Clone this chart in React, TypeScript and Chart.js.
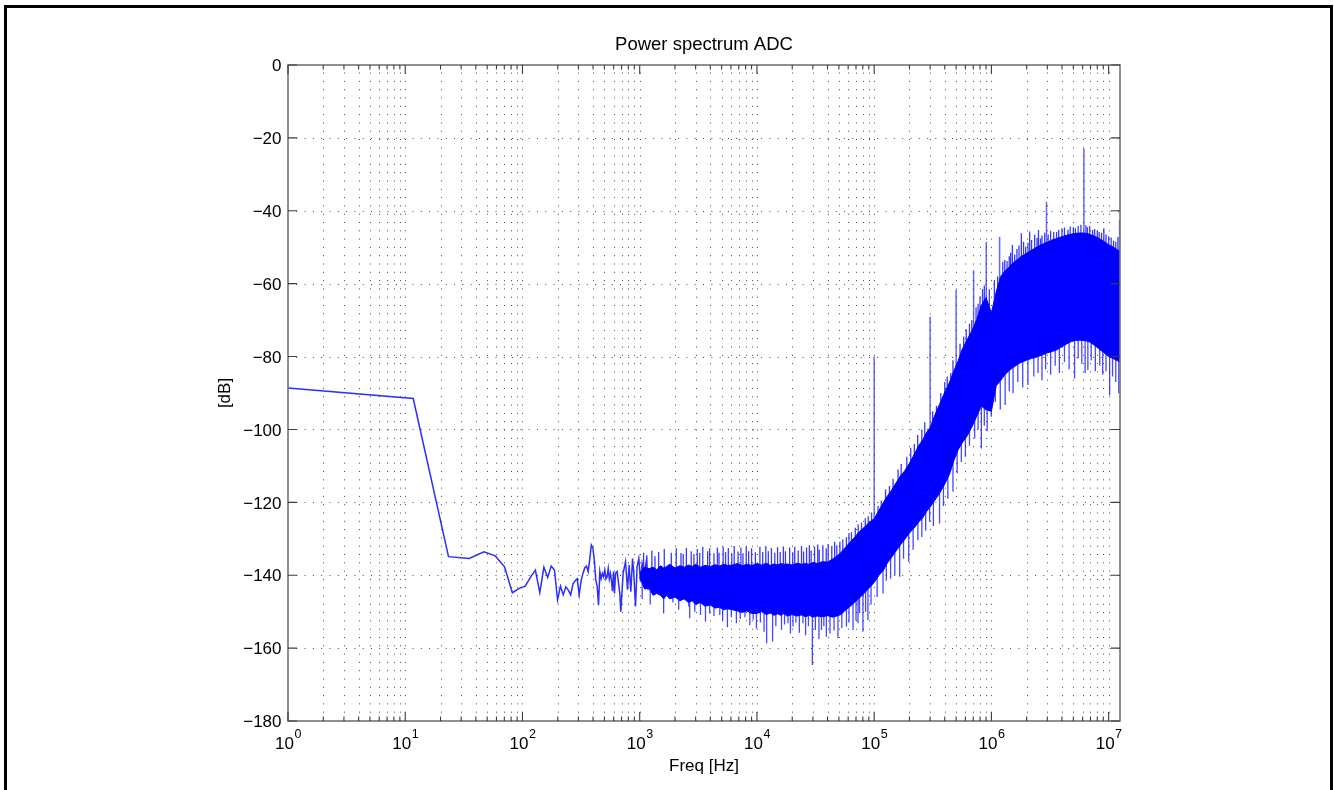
import React, { useEffect, useRef } from 'react';
import { Chart, registerables } from 'chart.js';

Chart.register(...registerables);

// ---- Data ----
// Low-frequency part of the spectrum (discrete FFT bins, Hz / dB)
const lowFreq = [
  1, 11.7, 23.4, 35.1, 46.9, 58.6, 70.3, 82.0, 93.8, 105.5, 117.2, 128.9, 140.6, 152.3,
  164.1, 175.8, 187.5, 199.2, 210.9, 222.7, 234.4, 246.1, 257.8, 269.5, 281.3, 293.0,
  304.7, 316.4, 328.1, 339.8, 351.6, 363.3, 375.0, 386.7, 398.4, 410.2, 421.9, 433.6,
  445.3, 457.0, 468.8, 480.5, 492.2, 503.9, 515.6, 527.3, 539.0, 550.8, 562.5, 574.2,
  585.9, 597.7, 609.4, 622, 642, 676, 690, 722, 757, 787, 812, 840, 869, 891, 921, 950,
  983, 1016, 1049, 1091, 1143, 1180,
];
const lowDb = [
  -88.6, -91.5, -134.9, -135.4, -133.6, -134.7, -137.7, -144.8, -143.6, -143.0, -140.5,
  -138.6, -144.8, -137.8, -140.6, -137.5, -138.6, -146.8, -143.0, -145.4, -143.2, -144.1,
  -145.4, -142.4, -141.5, -141.0, -145.4, -141.5, -139.5, -138.0, -137.5, -139.0, -135.5,
  -131.7, -132.5, -136.0, -141.3, -143.0, -148.2, -139.0, -141.0, -139.5, -140.4, -138.6,
  -141.0, -140.4, -138.1, -141.0, -139.5, -141.5, -144.4, -139.0, -145.0, -139.5, -139.0,
  -145.0, -150.0, -139.5, -136.3, -144.0, -137.2, -144.5, -135.4, -139.5, -148.6, -137.7,
  -135.4, -141.8, -136.8, -139.5, -135.9, -144.1,
];

// Dense noise band: upper and lower edge of the solid region (Hz / dB)
const bandFreq = [
  1e3, 1.1e3, 1.2e3, 1.3e3, 1.4e3, 1.5e3, 1.6e3, 1.7e3, 1.8e3, 2e3, 2.2e3, 2.4e3, 2.6e3, 2.8e3,
  3e3, 3.3e3, 3.6e3, 4e3, 4.4e3, 4.8e3, 5.2e3, 5.6e3, 6.2e3, 6.8e3, 7.5e3, 8.2e3, 9e3,
  1e4, 1.1e4, 1.2e4, 1.3e4, 1.4e4, 1.5e4, 1.6e4, 1.7e4, 1.8e4, 2e4, 2.2e4, 2.4e4, 2.6e4, 2.8e4,
  3e4, 3.3e4, 3.6e4, 4e4, 4.4e4, 4.8e4, 5.2e4, 5.6e4, 6.2e4, 6.8e4, 7.5e4, 8.2e4, 9e4,
  1e5, 1.1e5, 1.2e5, 1.3e5, 1.4e5, 1.5e5, 1.6e5, 1.7e5, 1.8e5, 2e5, 2.2e5, 2.4e5, 2.6e5, 2.8e5,
  3e5, 3.3e5, 3.6e5, 4e5, 4.4e5, 4.8e5, 5.2e5, 5.6e5, 6.2e5, 6.8e5, 7.5e5, 8.2e5, 9e5,
  1e6, 1.1e6, 1.2e6, 1.3e6, 1.4e6, 1.5e6, 1.6e6, 1.7e6, 1.8e6, 2e6, 2.2e6, 2.4e6, 2.6e6, 2.8e6,
  3e6, 3.3e6, 3.6e6, 4e6, 4.4e6, 4.8e6, 5.2e6, 5.6e6, 6.2e6, 6.8e6, 7.5e6, 8.2e6, 9e6,
  1e7, 1.1e7, 1.2e7, 1.25e7,
];
const bandTop = [
  -139.5, -137.8, -138.2, -137.8, -138.5, -137.4, -138, -137.6, -137, -138, -137.4, -137.8, -137.2,
  -137.6, -137, -137.8, -137.3, -137.6, -137.1, -137.5, -137, -137.3, -137.2, -136.8, -137.4, -137, -137.3,
  -136.8, -137.2, -136.7, -137.3, -136.9, -137.2, -136.8, -137, -136.9, -137.2, -136.7, -137, -136.8,
  -137, -136.5, -136.8, -136.3, -136.4, -135.6, -134.8, -133.8, -132.6, -131, -129.6, -128, -126.9, -125.6,
  -124.5, -122.2, -120, -118.2, -116.8, -115.2, -113.8, -112.4, -111.6, -109.3, -106.8, -104.4, -102.8, -100.8,
  -99.5, -96, -93.2, -89.8, -87, -83.8, -81.2, -78.2, -75.4, -73, -69.8, -66, -63.8,
  -68, -62.2, -58, -56.6, -55.6, -54.6, -53.8, -53.2, -52.5, -51.6, -50.8, -50.1, -49.5, -49,
  -48.6, -48, -47.6, -47.1, -46.7, -46.4, -46.2, -46.1, -46.1, -46.4, -46.9, -47.5, -48.3,
  -49.3, -50, -50.8, -51,
];
const bandBottom = [
  -140.5, -143.8, -143.5, -145.5, -145, -145.5, -146.5, -145.5, -146.5, -146, -147, -146.5, -147.5,
  -147, -148, -147.5, -148.5, -148.2, -149, -148.8, -149.5, -149.2, -149.5, -149.8, -150.2, -149.8, -150.5,
  -150.5, -150, -150.8, -150.4, -151, -150.6, -151, -150.5, -151.2, -150.8, -151.2, -150.9, -151.4,
  -151, -151.5, -151.2, -151.4, -151.1, -151.5, -151.2, -150.8, -149.8, -148.6, -147.5, -146.2, -145, -143.6,
  -142, -140, -138.6, -136.6, -135.2, -133.8, -132.6, -131.4, -130.4, -128.4, -127, -125.4, -124.2, -122.5,
  -121.3, -119.4, -117.6, -115, -112.2, -108.4, -105.6, -103.8, -101.8, -99.4, -96.4, -93.6, -94.6,
  -95, -88, -86.6, -85, -84, -83.2, -82.6, -82, -81.6, -81, -80.5, -80.2, -79.8, -79.4,
  -79, -78.6, -78.2, -77.3, -76.5, -75.9, -75.6, -75.5, -75.6, -75.9, -76.8, -77.8, -78.8,
  -80, -80.6, -81.2, -81.5,
];

// Discrete tones: frequency, peak dB, foot dB (inside the band)
const toneFreq = [1e5, 3e5, 5e5, 7.05e5, 9.04e5, 1.175e6, 2.95e6, 6.15e6, 1.24e7];
const toneTip = [-80, -69.1, -61.7, -56.3, -48.5, -47.1, -37.5, -22.9, -42.5];
const toneBase = [-128, -108, -92, -82, -75, -65, -62, -60, -62];

// Noise peaks above the band: frequency, peak dB, foot dB (inside the band)
const peakFreq = [
  1.08e3, 1.15e3, 1.27e3, 1.35e3, 1.45e3, 1.62e3, 1.86e3, 2.05e3, 2.25e3, 2.35e3, 2.5e3, 2.75e3,
  2.9e3, 3.1e3, 3.25e3, 3.45e3, 3.8e3, 3.95e3, 4.3e3, 4.6e3, 4.75e3, 5.15e3, 5.4e3, 5.7e3,
  6.1e3, 6.4e3, 6.9e3, 7.3e3, 7.6e3, 8.1e3, 8.5e3, 9e3, 9.7e3, 1.06e4, 1.12e4, 1.19e4,
  1.25e4, 1.33e4, 1.42e4, 1.5e4, 1.58e4, 1.68e4, 1.75e4, 1.9e4, 2.02e4, 2.1e4, 2.25e4, 2.4e4,
  2.5e4, 2.65e4, 2.8e4, 2.9e4, 3.1e4, 3.3e4, 3.4e4, 3.65e4, 3.9e4, 4.05e4, 4.35e4, 4.6e4,
  4.8e4, 5.1e4, 5.4e4, 5.8e4, 6.1e4, 6.4e4, 6.9e4, 7.3e4, 7.8e4, 8.4e4, 8.9e4, 9.5e4,
  1.08e5, 1.15e5, 1.25e5, 1.35e5, 1.45e5, 1.6e5, 1.7e5, 1.9e5, 2.05e5, 2.2e5, 2.35e5, 2.55e5,
  2.7e5, 3.15e5, 3.4e5, 3.7e5, 4e5, 4.2e5, 4.5e5, 4.7e5, 5.4e5, 5.8e5, 6.1e5, 6.5e5,
  6.8e5, 7.4e5, 7.7e5, 8e5, 8.4e5, 8.7e5, 9.6e5, 1.06e6, 1.13e6, 1.25e6, 1.3e6, 1.36e6,
  1.42e6, 1.46e6, 1.51e6, 1.58e6, 1.65e6, 1.72e6, 1.8e6, 1.88e6, 1.96e6, 2.05e6, 2.12e6, 2.2e6,
  2.34e6, 2.45e6, 2.52e6, 2.62e6, 2.7e6, 2.85e6, 3.05e6, 3.2e6, 3.4e6, 3.6e6, 3.75e6, 4e6,
  4.2e6, 4.5e6, 4.7e6, 5e6, 5.2e6, 5.5e6, 5.8e6, 6.4e6, 6.6e6, 6.9e6, 7.3e6, 7.6e6,
  8e6, 8.3e6, 8.7e6, 9.1e6, 9.5e6, 1e7, 1.05e7, 1.1e7, 1.15e7, 1.2e7,
];
const peakTip = [
  -133.8, -134.6, -133.2, -134.8, -133.6, -132.8, -133.8, -132.6, -133.9, -134.2, -132.5, -133.4,
  -134.2, -132.8, -133.9, -132.2, -133.4, -132.6, -134, -132.4, -133.8, -132.2, -133.6, -132.5,
  -134, -132, -133.5, -132.4, -134, -132.1, -133.4, -132.6, -133.7, -132.2, -133.6, -132,
  -133.4, -132.5, -133.8, -132.3, -133.6, -132.1, -133.4, -132.4, -133.7, -132.2, -133.2, -132,
  -133.5, -132.4, -131.8, -133.2, -132.2, -131.6, -133, -131.8, -132.6, -131.4, -132, -130.8,
  -131.8, -130.8, -130.2, -129.6, -128.4, -128.2, -127, -126, -125.5, -124.4, -123.8, -122.8,
  -121, -119.5, -116.5, -115.5, -113.5, -111, -109.5, -107.5, -105, -104, -101.5, -100,
  -98, -95, -93.5, -90, -87, -85.5, -84.5, -81, -76.5, -74.5, -72.5, -71,
  -70, -66.5, -65.5, -63.5, -61.5, -60.5, -61.5, -59, -58, -54, -53.5, -53.8,
  -52.5, -51.5, -49.4, -52, -50.5, -49.5, -46.2, -48.5, -49.9, -48.8, -45.7, -48,
  -46.6, -47.5, -45.3, -47.6, -46.8, -46, -46.5, -45.5, -45.8, -45.8, -45.2, -44.8,
  -44.6, -45.2, -44.3, -44.5, -44.8, -44.2, -43.8, -44, -44.5, -44.2, -45.3, -45,
  -45.5, -45.8, -46, -44.8, -46.5, -47, -47.3, -48.2, -48.5, -47.2,
];
const peakBase = [
  -141, -141, -141, -141, -141, -141, -141, -141, -141, -141, -141, -141,
  -141, -141, -141, -141, -141, -141, -141, -141, -141, -141, -141, -141,
  -141, -141, -141, -141, -141, -141, -141, -141, -141, -141, -141, -141,
  -141, -141, -141, -141, -141, -141, -141, -141, -141, -141, -141, -141,
  -141, -141, -141, -141, -141, -141, -141, -141, -141, -141, -141, -141,
  -140, -140, -140, -139, -139, -138, -137, -137, -136, -135, -134, -133,
  -131, -130, -128, -126, -125, -123, -122, -119, -118, -116, -115, -113,
  -112, -109, -107, -104, -102, -100, -99, -97, -92, -89, -88, -86,
  -85, -83, -81, -80, -79, -79, -80, -70, -70, -68, -68, -68,
  -65, -65, -65, -65, -65, -65, -65, -65, -65, -65, -65, -65,
  -65, -65, -65, -65, -65, -65, -65, -65, -65, -65, -65, -65,
  -65, -65, -65, -65, -65, -65, -65, -65, -65, -65, -65, -65,
  -65, -65, -65, -65, -65, -65, -65, -65, -65, -65,
];

// Narrow downward spikes below the band: frequency, tip dB, foot dB (inside the band)
const dipFreq = [
  1.05e3, 1.23e3, 1.6e3, 1.92e3, 2.15e3, 2.62e3, 2.67e3, 2.95e3, 3.3e3, 3.64e3, 3.95e3, 4.3e3,
  4.82e3, 5.1e3, 5.6e3, 6.05e3, 6.68e3, 7.2e3, 7.9e3, 8.7e3, 9.3e3, 9.9e3, 1.07e4, 1.15e4,
  1.21e4, 1.36e4, 1.45e4, 1.62e4, 1.72e4, 1.84e4, 1.93e4, 2.03e4, 2.15e4, 2.3e4, 2.47e4, 2.6e4,
  2.75e4, 2.97e4, 3.15e4, 3.38e4, 3.55e4, 3.72e4, 3.91e4, 4.2e4, 4.55e4, 4.91e4, 5.3e4, 5.8e4,
  6.1e4, 6.6e4, 7e4, 7.28e4, 7.5e4, 8.02e4, 8.45e4, 8.85e4, 9.4e4, 1.06e5, 1.19e5, 1.27e5,
  1.38e5, 1.5e5, 1.65e5, 1.78e5, 1.97e5, 2.15e5, 2.36e5, 2.55e5, 2.75e5, 2.97e5, 3.2e5, 3.61e5,
  3.9e5, 4.25e5, 4.7e5, 5.1e5, 5.54e5, 6e5, 6.5e5, 7.2e5, 7.7e5, 8.21e5, 8.7e5, 9.2e5,
  9.98e5, 1.08e6, 1.19e6, 1.31e6, 1.42e6, 1.53e6, 1.68e6, 1.85e6, 2.05e6, 2.3e6, 2.5e6, 2.7e6,
  2.9e6, 3.2e6, 3.5e6, 3.8e6, 4.2e6, 4.6e6, 5.12e6, 5.5e6, 5.9e6, 6.3e6, 6.65e6, 7.1e6,
  7.7e6, 8.4e6, 8.9e6, 9.5e6, 1.02e7, 1.08e7, 1.15e7, 1.22e7,
];
const dipTip = [
  -146.5, -148, -150.5, -147.5, -149.5, -148.6, -151.8, -150, -150.9, -152.8, -150.5, -151.2,
  -150.9, -152.5, -154.3, -151.5, -153.2, -152, -151.5, -153.7, -152.2, -154.6, -153, -155.5,
  -158.7, -158.2, -154, -155, -153.5, -153.2, -156, -154.1, -153, -155.8, -153.2, -156.5,
  -154, -164.6, -155, -157.5, -155, -154, -156.9, -156, -155.2, -157.3, -154.5, -154.1,
  -153, -155, -152.5, -153.2, -150.4, -155.5, -150, -152.3, -148, -146, -145, -141.5,
  -141, -140, -140.4, -135.5, -136.3, -133, -130.4, -129.5, -127.8, -125.3, -126.5, -125.8,
  -121, -119, -117.1, -112, -108.9, -107.5, -104.5, -102.5, -100, -105.2, -99, -100.5,
  -96.5, -92.5, -94.5, -93.3, -89.5, -90.1, -87, -88.5, -87.8, -85.5, -84.5, -86.5,
  -83.5, -85, -82.5, -84.5, -81.5, -83.5, -86, -80.5, -82, -84.5, -83.7, -81,
  -84, -82.5, -85, -84, -90.6, -85.5, -87, -90.1,
];
const dipBase = [
  -141, -141, -141, -141, -141, -141, -141, -141, -141, -141, -141, -141,
  -141, -141, -141, -141, -141, -141, -141, -141, -141, -141, -141, -141,
  -141, -141, -141, -141, -141, -141, -141, -141, -141, -141, -141, -141,
  -141, -141, -141, -141, -141, -141, -141, -141, -141, -141, -141, -141,
  -141, -141, -141, -141, -141, -141, -141, -141, -135, -135, -132, -130,
  -128, -126, -123, -122, -120, -117, -115, -113, -112, -110, -108, -105,
  -102, -100, -97, -93, -90, -88, -86, -84, -82, -80, -80, -80,
  -82, -68, -68, -65, -65, -65, -65, -65, -65, -65, -65, -65,
  -65, -65, -65, -65, -65, -65, -65, -65, -65, -65, -65, -65,
  -65, -65, -65, -65, -65, -65, -65, -65,
];

// Axes
const X_MIN = 1;
const X_MAX = 1.25e7;
const Y_MIN = -180;
const Y_MAX = 0;
const xMajorTicks = [1, 10, 100, 1e3, 1e4, 1e5, 1e6, 1e7];
const xTickExponents = ['0', '1', '2', '3', '4', '5', '6', '7'];
const xMinorMultipliers = [2, 3, 4, 5, 6, 7, 8, 9];
const yTicks = [0, -20, -40, -60, -80, -100, -120, -140, -160, -180];
const yTickLabels = ['0', '\u221220', '\u221240', '\u221260', '\u221280', '\u2212100', '\u2212120', '\u2212140', '\u2212160', '\u2212180'];
const titleText = 'Power spectrum ADC';
const xTitle = 'Freq [Hz]';
const yTitle = '[dB]';

const FONT = '"Liberation Sans", Arial, Helvetica, sans-serif';

function gridXValues(): { v: number; major: boolean }[] {
  const out: { v: number; major: boolean }[] = [];
  xMajorTicks.forEach((m) => {
    out.push({ v: m, major: true });
    xMinorMultipliers.forEach((k) => {
      const v = m * k;
      if (v < X_MAX) out.push({ v, major: false });
    });
  });
  return out;
}

const matlabAxes = {
  id: 'matlabAxes',
  beforeDatasetsDraw(chart: any) {
    const { ctx, chartArea: a } = chart;
    const xs = chart.scales.x;
    const ys = chart.scales.y;
    ctx.save();
    ctx.lineWidth = 1;
    ctx.strokeStyle = 'rgba(0,0,0,0.72)';
    ctx.setLineDash([1, 7.3]);
    gridXValues().forEach(({ v }) => {
      if (v <= X_MIN) return;
      const px = Math.round(xs.getPixelForValue(v)) + 0.5;
      ctx.beginPath();
      ctx.moveTo(px, a.bottom);
      ctx.lineTo(px, a.top);
      ctx.stroke();
    });
    yTicks.forEach((v) => {
      if (v === Y_MIN || v === Y_MAX) return;
      const py = Math.round(ys.getPixelForValue(v)) + 0.5;
      ctx.beginPath();
      ctx.moveTo(a.left, py);
      ctx.lineTo(a.right, py);
      ctx.stroke();
    });
    ctx.restore();
  },
  afterDatasetsDraw(chart: any) {
    const { ctx, chartArea: a } = chart;
    const xs = chart.scales.x;
    const ys = chart.scales.y;
    ctx.save();
    // axis box
    ctx.setLineDash([]);
    ctx.strokeStyle = '#747474';
    ctx.lineWidth = 1.6;
    ctx.strokeRect(a.left, a.top, a.right - a.left, a.bottom - a.top);
    // ticks
    ctx.strokeStyle = '#3c3c3c';
    ctx.lineWidth = 1.1;
    gridXValues().forEach(({ v, major }) => {
      const px = xs.getPixelForValue(v);
      const len = major ? 9 : 4.5;
      ctx.beginPath();
      ctx.moveTo(px, a.bottom);
      ctx.lineTo(px, a.bottom - len);
      ctx.moveTo(px, a.top);
      ctx.lineTo(px, a.top + len);
      ctx.stroke();
    });
    yTicks.forEach((v) => {
      const py = ys.getPixelForValue(v);
      ctx.beginPath();
      ctx.moveTo(a.left, py);
      ctx.lineTo(a.left + 9, py);
      ctx.moveTo(a.right, py);
      ctx.lineTo(a.right - 9, py);
      ctx.stroke();
    });
    // y tick labels
    ctx.fillStyle = '#000';
    ctx.font = `17px ${FONT}`;
    ctx.textAlign = 'right';
    ctx.textBaseline = 'alphabetic';
    yTicks.forEach((v, i) => {
      const py = ys.getPixelForValue(v);
      ctx.fillText(yTickLabels[i], a.left - 6.5, py + 6.2);
    });
    // x tick labels: 10 with superscript exponent
    ctx.textAlign = 'left';
    xMajorTicks.forEach((v, i) => {
      const px = xs.getPixelForValue(v);
      ctx.font = `17px ${FONT}`;
      const wBase = ctx.measureText('10').width;
      ctx.font = `12.5px ${FONT}`;
      const wExp = ctx.measureText(xTickExponents[i]).width;
      const start = px - (wBase + wExp) / 2;
      ctx.font = `17px ${FONT}`;
      ctx.fillText('10', start, 749);
      ctx.font = `12.5px ${FONT}`;
      ctx.fillText(xTickExponents[i], start + wBase + 0.5, 738);
    });
    // titles
    const cx = (a.left + a.right) / 2;
    ctx.textAlign = 'center';
    ctx.font = `18.5px ${FONT}`;
    ctx.fillText(titleText, cx, 50);
    ctx.font = `17px ${FONT}`;
    ctx.fillText(xTitle, cx, 771);
    ctx.translate(229.5, (a.top + a.bottom) / 2);
    ctx.rotate(-Math.PI / 2);
    ctx.fillText(yTitle, 0, 0);
    ctx.restore();
  },
};

function toPoints(xs: number[], ys: number[]) {
  return xs.map((x, i) => ({ x, y: ys[i] }));
}

function toSpikes(freqs: number[], tips: number[], bases: number[]) {
  const pts: { x: number; y: number | null }[] = [];
  freqs.forEach((f, i) => {
    pts.push({ x: f, y: bases[i] });
    pts.push({ x: f, y: tips[i] });
    pts.push({ x: f, y: null });
  });
  return pts;
}

export default function App() {
  const canvasRef = useRef<HTMLCanvasElement>(null);

  useEffect(() => {
    const canvas = canvasRef.current;
    if (!canvas) return;
    const blue = 'rgb(0,0,255)';
    const chart = new Chart(canvas, {
      type: 'line',
      data: {
        datasets: [
          {
            label: 'band upper',
            data: toPoints(bandFreq, bandTop),
            borderColor: blue,
            borderWidth: 1,
            pointRadius: 0,
            fill: false,
            tension: 0,
          },
          {
            label: 'band lower',
            data: toPoints(bandFreq, bandBottom),
            borderColor: blue,
            borderWidth: 1,
            pointRadius: 0,
            fill: '-1',
            backgroundColor: blue,
            tension: 0,
          },
          {
            label: 'low frequency',
            data: toPoints(lowFreq, lowDb),
            borderColor: 'rgb(45,45,255)',
            borderWidth: 1.5,
            pointRadius: 0,
            fill: false,
            tension: 0,
          },
          {
            label: 'tones',
            data: toSpikes(toneFreq, toneTip, toneBase),
            borderColor: 'rgba(0,0,255,0.6)',
            borderWidth: 1.5,
            pointRadius: 0,
            fill: false,
            spanGaps: false,
          },
          {
            label: 'noise peaks',
            data: toSpikes(peakFreq, peakTip, peakBase),
            borderColor: 'rgba(0,0,255,0.78)',
            borderWidth: 1.3,
            pointRadius: 0,
            fill: false,
            spanGaps: false,
          },
          {
            label: 'noise dips',
            data: toSpikes(dipFreq, dipTip, dipBase),
            borderColor: 'rgba(0,0,255,0.72)',
            borderWidth: 1.3,
            pointRadius: 0,
            fill: false,
            spanGaps: false,
          },
        ],
      } as any,
      options: {
        responsive: false,
        animation: false,
        events: [],
        devicePixelRatio: 1,
        layout: { padding: { left: 288, right: 214, top: 65, bottom: 69 } },
        plugins: {
          legend: { display: false },
          title: { display: false },
          tooltip: { enabled: false },
        },
        scales: {
          x: { type: 'logarithmic', min: X_MIN, max: X_MAX, display: false },
          y: { type: 'linear', min: Y_MIN, max: Y_MAX, display: false },
        },
      } as any,
      plugins: [matlabAxes],
    });
    return () => chart.destroy();
  }, []);

  return (
    <div
      style={{
        position: 'absolute',
        left: 0,
        top: 0,
        width: 1334,
        height: 790,
        overflow: 'hidden',
        background: '#fff',
      }}
    >
      <canvas ref={canvasRef} width={1334} height={790} style={{ display: 'block', width: 1334, height: 790 }} />
      <div
        style={{
          position: 'absolute',
          left: 4,
          top: 5,
          width: 1329,
          height: 800,
          border: '3px solid #000',
          boxSizing: 'border-box',
          pointerEvents: 'none',
        }}
      />
    </div>
  );
}
